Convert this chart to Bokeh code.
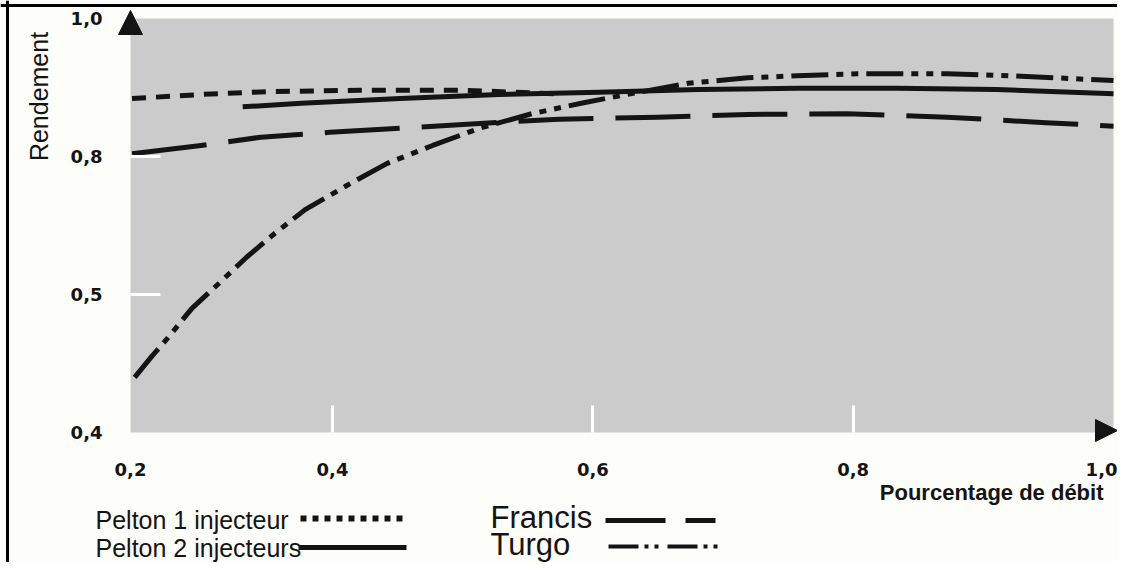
import math
from bokeh.plotting import figure
from bokeh.models import FixedTicker, Label, Arrow, NormalHead, LinearAxis, BoxAnnotation, Span
from bokeh.core.properties import value
from bokeh.embed import file_html
from bokeh.resources import INLINE

# ---------------- data ----------------
pelton1_x = [0.246, 0.300, 0.350, 0.420, 0.500, 0.570]
pelton1_y = [0.884, 0.890, 0.894, 0.896, 0.896, 0.891]

pelton2_x = [0.331, 0.376, 0.452, 0.528, 0.605, 0.681, 0.757, 0.834, 0.910, 1.000]
pelton2_y = [0.872, 0.877, 0.884, 0.890, 0.893, 0.897, 0.899, 0.899, 0.897, 0.891]

francis_x = [0.246, 0.299, 0.345, 0.398, 0.452, 0.513, 0.574, 0.650, 0.719, 0.795, 0.872, 0.948, 1.000]
francis_y = [0.804, 0.816, 0.828, 0.835, 0.841, 0.848, 0.854, 0.857, 0.861, 0.862, 0.857, 0.849, 0.844]

turgo_x = [0.248, 0.261, 0.273, 0.292, 0.311, 0.334, 0.354, 0.379, 0.411, 0.442, 0.477,
           0.513, 0.553, 0.593, 0.635, 0.673, 0.719, 0.757, 0.803, 0.872, 0.933, 1.000]
turgo_y = [0.480, 0.510, 0.536, 0.580, 0.613, 0.654, 0.686, 0.723, 0.758, 0.790, 0.816,
           0.841, 0.862, 0.878, 0.893, 0.906, 0.914, 0.917, 0.920, 0.920, 0.916, 0.910]

x_tick_labels = ["0,2", "0,4", "0,6", "0,8", "1,0"]
y_ticks = [0.4, 0.6, 0.8, 1.0]
y_tick_labels = ["0,4", "0,5", "0,8", "1,0"]

series_names = ["Pelton 1 injecteur", "Pelton 2 injecteurs", "Francis", "Turgo"]
x_title = "Pourcentage de débit"
y_title = "Rendement"

# ---------------- layout (pixel geometry of the canvas) ----------------
W, H = 1117, 562
PX_X = (1113 - 332) / 0.6          # pixels per x unit
PX_Y = (432 - 18) / 0.6            # pixels per y unit


def X(px):
    return 0.4 + (px - 332) / PX_X


def Y(py):
    return 0.4 + (432 - py) / PX_Y


X0 = X(130)                         # left edge of the grey plotting area
x_ticks = [X0, 0.4, 0.6, 0.8, 1.0]

INK = "#141414"
GRAY = "#cbcbcb"
PAPER = "#fdfdf9"
FONT = "Liberation Sans"

p = figure(width=W, height=H, frame_width=W, frame_height=H, min_border=0,
           x_range=(X(0), X(W)), y_range=(Y(H), Y(0)), title=None,
           output_backend="svg", toolbar_location=None,
           background_fill_color=PAPER, border_fill_color=PAPER, outline_line_color=None)
p.grid.visible = False

# grey plotting area
p.add_layout(BoxAnnotation(left=X0, right=1.0, bottom=0.4, top=1.0, level="underlay",
                           fill_color=GRAY, fill_alpha=1.0, line_color=None))

# labelled axes (fixed to the edges of the grey area, no tick marks)
def style_axis(ax, ticks, labels, standoff):
    ax.ticker = FixedTicker(ticks=ticks)
    ax.major_label_overrides = {t: l for t, l in zip(ticks, labels)}
    ax.axis_line_color = None
    ax.minor_tick_line_color = None
    ax.major_tick_line_color = None
    ax.major_tick_in = 0
    ax.major_tick_out = 0
    ax.major_label_standoff = standoff
    ax.major_label_text_font = "DejaVu Sans"
    ax.major_label_text_font_style = "bold"
    ax.major_label_text_font_size = "18px"
    ax.major_label_text_color = INK


xa = p.xaxis[0]
xa.fixed_location = 0.4
style_axis(xa, x_ticks, x_tick_labels, 30)
ya = p.yaxis[0]
ya.fixed_location = X0
style_axis(ya, y_ticks, y_tick_labels, 28)

# white inner tick marks
xt = LinearAxis(fixed_location=0.4, ticker=FixedTicker(ticks=[0.4, 0.6, 0.8]),
                axis_line_color=None, minor_tick_line_color=None,
                major_tick_line_color="white", major_tick_line_width=3,
                major_tick_in=27, major_tick_out=0, major_label_text_color=None)
p.add_layout(xt, "below")
yt = LinearAxis(fixed_location=X0, ticker=FixedTicker(ticks=[0.6, 0.8]),
                axis_line_color=None, minor_tick_line_color=None,
                major_tick_line_color="white", major_tick_line_width=3,
                major_tick_in=30, major_tick_out=0, major_label_text_color=None)
p.add_layout(yt, "left")

# curves
p.line(pelton1_x, pelton1_y, line_width=5, line_color=INK, line_dash="14 10")
p.line(pelton2_x, pelton2_y, line_width=5, line_color=INK, line_join="round")
p.line(francis_x, francis_y, line_width=5, line_color=INK, line_dash="75 22", line_join="round")
p.line(turgo_x, turgo_y, line_width=5, line_color=INK, line_dash="37 8 7 8 7 8",
       line_join="round")

# axis arrows
p.add_layout(Arrow(x_start=X0, y_start=Y(40), x_end=X0, y_end=Y(10), line_alpha=0,
                   end=NormalHead(size=24, fill_color=INK, line_color=INK)))
p.add_layout(Arrow(x_start=X(1090), y_start=Y(430), x_end=X(1117), y_end=Y(430), line_alpha=0,
                   end=NormalHead(size=22, fill_color=INK, line_color=INK)))

# axis titles
p.add_layout(Label(x=X(1103), y=Y(492), text=x_title, text_align="right",
                   text_baseline="middle", text_font=FONT, text_font_style="bold",
                   text_font_size="22px", text_color=INK))
p.add_layout(Label(x=X(38), y=Y(96), text=y_title, angle=math.pi / 2,
                   text_align="center", text_baseline="middle",
                   text_font=FONT, text_font_size="25px", text_color=INK))

# frame border lines
p.add_layout(Span(location=X(7), dimension="height", line_color="black", line_width=3))
p.add_layout(Span(location=Y(5), dimension="width", line_color="black", line_width=3))

# ---------------- legend (below the chart) ----------------
p.text(x=[X(95), X(95)], y=[Y(519), Y(547)], text=series_names[:2],
       text_font=value(FONT), text_font_size="25px", text_color=INK,
       text_baseline="middle")
p.text(x=[X(490), X(490)], y=[Y(517), Y(544)], text=series_names[2:],
       text_font=value(FONT), text_font_size="31px", text_color=INK,
       text_baseline="middle")

p.line([X(300), X(406)], [Y(518), Y(518)], line_width=6, line_color=INK, line_dash="6 6")
p.line([X(298), X(406)], [Y(547), Y(547)], line_width=5, line_color=INK)
p.line([X(605), X(715)], [Y(520), Y(520)], line_width=5, line_color=INK, line_dash="60 20")
p.line([X(608), X(717)], [Y(546), Y(546)], line_width=4, line_color=INK,
       line_dash="30 6 4 6 4 9")

open("out.html", "w", encoding="utf-8").write(file_html(p, INLINE))
